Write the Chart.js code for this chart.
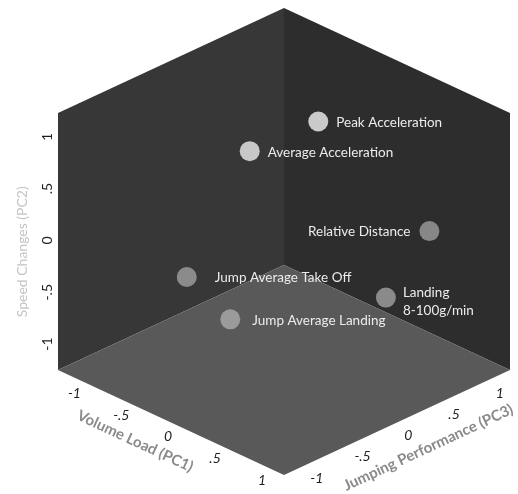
<!DOCTYPE html>
<html>
<head>
<meta charset="utf-8">
<script src="https://cdn.jsdelivr.net/npm/chart.js@4/dist/chart.umd.min.js"></script>
<style>
  html, body { margin: 0; padding: 0; background: #ffffff; }
  canvas { display: block; }
</style>
</head>
<body>
<canvas id="pcaCube" width="518" height="494"></canvas>
<script>
// ---- Data: component scores of each variable ----
const variables = ['Peak Acceleration', 'Average Acceleration', 'Relative Distance',
                   'Jump Average Take Off', 'Landing\n8-100g/min', 'Jump Average Landing'];
const volumeLoadPC1   = [0.07, -0.30, 0.66, -0.63, 0.43, -0.40];
const speedChangesPC2 = [1.15,  0.86, 0.09, -0.35, -0.55, -0.76];
const jumpingPerfPC3  = [0.23, -0.14, 0.84, -0.49, 0.60, -0.25];

// Axis extents and ticks
const pc1Range = [-1.32, 1.09];
const pc2Range = [-1.25, 1.23];
const pc3Range = [-1.19, 1.28];
const tickValues = [-1, -0.5, 0, 0.5, 1];
const tickLabels = ['-1', '-.5', '0', '.5', '1'];
const axisTitles = { pc1: 'Volume Load (PC1)', pc2: 'Speed Changes (PC2)', pc3: 'Jumping Performance (PC3)' };

// ---- Styling ----
const pointShades = ['#cacaca', '#c8c8c8', '#878787', '#8b8b8b', '#8a8a8a', '#9b9b9b'];
const labelSide   = ['right', 'right', 'left', 'right', 'right', 'right'];
const labelGap    = [18, 18, 19, 28, 17, 22];
const FONT = 'Lato, "Open Sans", sans-serif';

// Oblique box geometry in plane units (back-bottom corner, half width, floor drop, wall height)
const BOX = { cx: 284, backY: 265, half: 226, drop: 105, height: 257 };

function unit(v, r) { return (v - r[0]) / (r[1] - r[0]); }

// 3-D score -> plane coordinates of the oblique box
function project(p1, p2, p3) {
  const u1 = unit(p1, pc1Range), u2 = unit(p2, pc2Range), u3 = unit(p3, pc3Range);
  return {
    x: BOX.cx + BOX.half * (u1 + u3 - 1),
    y: BOX.backY + BOX.drop * (1 + u1 - u3) - BOX.height * u2
  };
}

function toPixel(chart, p) {
  return { x: chart.scales.x.getPixelForValue(p.x), y: chart.scales.y.getPixelForValue(p.y) };
}

function poly(ctx, pts, fill) {
  ctx.beginPath();
  pts.forEach((p, i) => i ? ctx.lineTo(p.x, p.y) : ctx.moveTo(p.x, p.y));
  ctx.closePath();
  ctx.fillStyle = fill;
  ctx.fill();
}

function unitVec(a, b) {
  const dx = b.x - a.x, dy = b.y - a.y, l = Math.hypot(dx, dy);
  return { x: dx / l, y: dy / l };
}

const boxPlugin = {
  id: 'boxFaces',
  beforeDatasetsDraw(chart) {
    const ctx = chart.ctx;
    const [a1, b1] = pc1Range, [a2, b2] = pc2Range, [a3, b3] = pc3Range;
    const P = (p1, p2, p3) => toPixel(chart, project(p1, p2, p3));
    ctx.save();
    // left wall (PC1 minimum)
    poly(ctx, [P(a1, a2, a3), P(a1, a2, b3), P(a1, b2, b3), P(a1, b2, a3)], '#373737');
    // right wall (PC3 maximum)
    poly(ctx, [P(a1, a2, b3), P(b1, a2, b3), P(b1, b2, b3), P(a1, b2, b3)], '#2d2d2d');
    // floor (PC2 minimum)
    poly(ctx, [P(a1, a2, b3), P(a1, a2, a3), P(b1, a2, a3), P(b1, a2, b3)], '#595959');
    ctx.restore();
  },
  afterDatasetsDraw(chart) {
    const ctx = chart.ctx;
    ctx.save();
    ctx.fillStyle = '#ececec';
    ctx.font = '13.5px ' + FONT;
    ctx.textBaseline = 'middle';
    variables.forEach((name, i) => {
      const p = toPixel(chart, project(volumeLoadPC1[i], speedChangesPC2[i], jumpingPerfPC3[i]));
      const lines = name.split('\n');
      const lh = 18;
      const right = labelSide[i] === 'right';
      ctx.textAlign = right ? 'left' : 'right';
      const x = right ? p.x + labelGap[i] : p.x - labelGap[i];
      const y0 = p.y + 1 - (lines.length - 1) * lh / 2 + (lines.length > 1 ? 3 : 0);
      lines.forEach((t, k) => ctx.fillText(t, x, y0 + k * lh));
    });
    ctx.restore();
  },
  afterDraw(chart) {
    const ctx = chart.ctx;
    const [a1, b1] = pc1Range, [a2, b2] = pc2Range, [a3, b3] = pc3Range;
    const P = (p1, p2, p3) => toPixel(chart, project(p1, p2, p3));
    ctx.save();
    ctx.textAlign = 'center';
    ctx.textBaseline = 'middle';

    // PC2 ticks along the front-left vertical edge
    ctx.fillStyle = '#1e1e1e';
    ctx.font = '14px ' + FONT;
    tickValues.forEach((v, i) => {
      const p = P(a1, v, a3);
      ctx.save();
      ctx.translate(p.x - 11, p.y);
      ctx.rotate(-Math.PI / 2);
      ctx.fillText(tickLabels[i], 0, 0);
      ctx.restore();
    });

    // PC1 ticks along the front-left floor edge
    const out1 = unitVec(P(a1, a2, b3), P(a1, a2, a3));
    const ang1 = Math.atan2(P(b1, a2, a3).y - P(a1, a2, a3).y, P(b1, a2, a3).x - P(a1, a2, a3).x);
    ctx.font = 'italic 14px ' + FONT;
    tickValues.forEach((v, i) => {
      const p = P(v, a2, a3);
      ctx.fillText(tickLabels[i], p.x + out1.x * 15, p.y + out1.y * 15 + 3);
    });

    // PC3 ticks along the front-right floor edge
    const out3 = unitVec(P(a1, a2, a3), P(b1, a2, a3));
    const ang3 = Math.atan2(P(b1, a2, b3).y - P(b1, a2, a3).y, P(b1, a2, b3).x - P(b1, a2, a3).x);
    tickValues.forEach((v, i) => {
      const p = P(b1, a2, v);
      ctx.fillText(tickLabels[i], p.x + out3.x * 17, p.y + out3.y * 17 + 4);
    });

    // axis titles
    ctx.fillStyle = '#8a8a8a';
    ctx.font = 'bold 15px ' + FONT;
    let m = P(a1 + (b1 - a1) * 0.51, a2, a3);
    ctx.save();
    ctx.translate(m.x + out1.x * 42, m.y + out1.y * 42);
    ctx.rotate(ang1);
    ctx.fillText(axisTitles.pc1, 0, 0);
    ctx.restore();

    m = P(b1, a2, a3 + (b3 - a3) * 0.45);
    ctx.save();
    ctx.translate(m.x + out3.x * 47, m.y + out3.y * 47);
    ctx.rotate(ang3);
    ctx.fillText(axisTitles.pc3, 0, 0);
    ctx.restore();

    ctx.fillStyle = '#c4c4c4';
    ctx.font = '14px ' + FONT;
    m = P(a1, a2 + (b2 - a2) * 0.46, a3);
    ctx.save();
    ctx.translate(m.x - 36, m.y);
    ctx.rotate(-Math.PI / 2);
    ctx.fillText(axisTitles.pc2, 0, 0);
    ctx.restore();

    ctx.restore();
  }
};

new Chart(document.getElementById('pcaCube'), {
  type: 'scatter',
  data: {
    datasets: [{
      data: variables.map((_, i) => project(volumeLoadPC1[i], speedChangesPC2[i], jumpingPerfPC3[i])),
      pointRadius: 10,
      pointHoverRadius: 10,
      pointBorderWidth: 0,
      pointBackgroundColor: pointShades,
      borderColor: 'transparent'
    }]
  },
  options: {
    responsive: false,
    animation: false,
    events: [],
    layout: { padding: 0, autoPadding: false },
    plugins: { legend: { display: false }, tooltip: { enabled: false } },
    scales: {
      x: { type: 'linear', display: false, min: 0, max: 518 },
      y: { type: 'linear', display: false, min: 0, max: 494, reverse: true }
    }
  },
  plugins: [boxPlugin]
});
</script>
</body>
</html>
